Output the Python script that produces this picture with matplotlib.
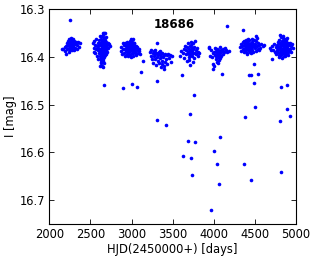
import matplotlib
matplotlib.use("Agg")
import matplotlib.pyplot as plt
import numpy as np

# Light curve of star 18686, (HJD-2450000, I mag) per observing season
season_1 = [
    (2160, 16.384), (2172, 16.383), (2185, 16.380), (2193, 16.388), (2200, 16.394),
    (2208, 16.378), (2215, 16.371), (2220, 16.384), (2227, 16.366), (2232, 16.375),
    (2237, 16.381), (2241, 16.389), (2245, 16.362), (2248, 16.370), (2251, 16.323),
    (2253, 16.377), (2256, 16.385), (2259, 16.366), (2262, 16.372), (2265, 16.360),
    (2268, 16.379), (2271, 16.369), (2274, 16.386), (2277, 16.363), (2280, 16.374),
    (2283, 16.381), (2286, 16.368), (2290, 16.362), (2293, 16.377), (2296, 16.371),
    (2300, 16.385), (2305, 16.366), (2311, 16.374), (2318, 16.381), (2324, 16.369),
    (2331, 16.383), (2342, 16.376), (2352, 16.368), (2364, 16.380), (2378, 16.370),
]

season_2 = [
    (2534, 16.372), (2541, 16.381), (2546, 16.366), (2549, 16.389), (2556, 16.375),
    (2561, 16.393), (2566, 16.383), (2571, 16.363), (2576, 16.377), (2581, 16.398),
    (2586, 16.386), (2590, 16.370), (2595, 16.381), (2598, 16.404), (2602, 16.392),
    (2605, 16.365), (2608, 16.376), (2611, 16.388), (2613, 16.399), (2615, 16.357),
    (2617, 16.371), (2619, 16.383), (2621, 16.393), (2623, 16.407), (2625, 16.362),
    (2627, 16.375), (2629, 16.386), (2631, 16.398), (2633, 16.412), (2635, 16.368),
    (2637, 16.379), (2639, 16.390), (2641, 16.401), (2643, 16.357), (2645, 16.372),
    (2647, 16.383), (2649, 16.394), (2651, 16.405), (2653, 16.366), (2655, 16.377),
    (2657, 16.388), (2659, 16.399), (2661, 16.360), (2663, 16.371), (2665, 16.382),
    (2667, 16.393), (2669, 16.458), (2671, 16.376), (2673, 16.387), (2675, 16.397),
    (2677, 16.365), (2679, 16.380), (2681, 16.391), (2683, 16.370), (2685, 16.385),
    (2688, 16.375), (2690, 16.395), (2693, 16.368), (2696, 16.382), (2700, 16.376),
    (2705, 16.389), (2711, 16.372), (2718, 16.381), (2726, 16.374), (2736, 16.378),
    (2651, 16.350), (2662, 16.350), (2676, 16.351), (2621, 16.420), (2636, 16.419),
    (2648, 16.421), (2630, 16.410), (2655, 16.409), (2640, 16.404), (2626, 16.402),
    (2612, 16.373), (2664, 16.363), (2687, 16.358), (2658, 16.355), (2645, 16.390),
    (2632, 16.384), (2668, 16.401), (2644, 16.366), (2652, 16.385), (2638, 16.395),
    (2666, 16.373), (2674, 16.368), (2628, 16.391), (2660, 16.413), (2654, 16.396),
]

season_3 = [
    (2866, 16.388), (2874, 16.379), (2882, 16.395), (2890, 16.372), (2892, 16.465),
    (2897, 16.384), (2904, 16.391), (2910, 16.376), (2915, 16.399), (2920, 16.383),
    (2926, 16.370), (2931, 16.388), (2936, 16.378), (2940, 16.394), (2945, 16.382),
    (2950, 16.373), (2954, 16.387), (2958, 16.379), (2962, 16.392), (2966, 16.384),
    (2970, 16.375), (2974, 16.389), (2978, 16.381), (2982, 16.396), (2986, 16.371),
    (2990, 16.362), (2993, 16.385), (2996, 16.378), (3000, 16.391), (3001, 16.457),
    (3004, 16.382), (3008, 16.374), (3012, 16.388), (3016, 16.362), (3019, 16.380),
    (3023, 16.393), (3027, 16.376), (3031, 16.386), (3035, 16.372), (3040, 16.390),
    (3045, 16.381), (3050, 16.397), (3056, 16.377), (3062, 16.385), (3070, 16.464),
    (3072, 16.379), (3080, 16.392), (3088, 16.383), (3096, 16.388), (3104, 16.395),
    (3111, 16.431), (3135, 16.409), (2952, 16.398), (2988, 16.401), (3018, 16.399),
    (2944, 16.369), (3006, 16.368), (3028, 16.371), (2975, 16.367), (3060, 16.395),
]

season_4 = [
    (3226, 16.389), (3234, 16.398), (3241, 16.385), (3249, 16.404), (3256, 16.393),
    (3263, 16.412), (3270, 16.399), (3277, 16.388), (3283, 16.405), (3290, 16.395),
    (3296, 16.418), (3302, 16.391), (3305, 16.451), (3306, 16.370), (3309, 16.401),
    (3313, 16.533), (3316, 16.393), (3320, 16.408), (3325, 16.396), (3330, 16.412),
    (3335, 16.390), (3341, 16.402), (3347, 16.394), (3352, 16.421), (3358, 16.398),
    (3364, 16.409), (3370, 16.393), (3376, 16.415), (3382, 16.400), (3389, 16.426),
    (3395, 16.397), (3401, 16.411), (3408, 16.394), (3415, 16.542), (3418, 16.404),
    (3425, 16.396), (3433, 16.416), (3441, 16.395), (3450, 16.403), (3462, 16.397),
    (3475, 16.410), (3486, 16.398), (3396, 16.420), (3344, 16.387), (3282, 16.386),
]

season_5 = [
    (3594, 16.399), (3603, 16.388), (3617, 16.439), (3620, 16.393), (3625, 16.608),
    (3632, 16.384), (3641, 16.402), (3650, 16.377), (3658, 16.395), (3665, 16.386),
    (3671, 16.408), (3677, 16.380), (3682, 16.392), (3686, 16.372), (3690, 16.577),
    (3690, 16.389), (3694, 16.400), (3698, 16.383), (3702, 16.394), (3706, 16.378),
    (3710, 16.388), (3713, 16.418), (3715, 16.520), (3717, 16.385), (3719, 16.611),
    (3721, 16.397), (3725, 16.376), (3728, 16.390), (3731, 16.648), (3732, 16.382),
    (3736, 16.398), (3740, 16.387), (3744, 16.371), (3748, 16.393), (3752, 16.384),
    (3757, 16.403), (3762, 16.379), (3763, 16.480), (3767, 16.392), (3772, 16.367),
    (3775, 16.579), (3778, 16.386), (3785, 16.395), (3793, 16.381), (3802, 16.398),
    (3812, 16.389), (3822, 16.393), (3700, 16.407), (3744, 16.410), (3726, 16.368),
]

season_6 = [
    (3936, 16.379), (3944, 16.381), (3952, 16.398), (3962, 16.720), (3966, 16.386),
    (3975, 16.401), (3984, 16.392), (3990, 16.415), (3994, 16.425), (3998, 16.420),
    (4002, 16.598), (4004, 16.389), (4010, 16.381), (4016, 16.396), (4022, 16.404),
    (4027, 16.387), (4032, 16.398), (4036, 16.410), (4040, 16.392), (4043, 16.625),
    (4044, 16.383), (4048, 16.401), (4052, 16.394), (4056, 16.386), (4060, 16.407),
    (4063, 16.667), (4064, 16.397), (4068, 16.389), (4072, 16.380), (4075, 16.568),
    (4076, 16.402), (4080, 16.393), (4085, 16.385), (4090, 16.399), (4096, 16.435),
    (4100, 16.388), (4108, 16.395), (4116, 16.383), (4125, 16.390), (4136, 16.381),
    (4148, 16.386), (4156, 16.335), (4165, 16.389), (4182, 16.387), (4055, 16.412),
]

season_7 = [
    (4316, 16.380), (4325, 16.373), (4334, 16.387), (4342, 16.378), (4350, 16.369),
    (4355, 16.384), (4359, 16.343), (4362, 16.375), (4363, 16.625), (4368, 16.390),
    (4372, 16.366), (4376, 16.381), (4379, 16.525), (4380, 16.372), (4384, 16.387),
    (4388, 16.378), (4392, 16.365), (4396, 16.383), (4400, 16.374), (4404, 16.391),
    (4408, 16.369), (4412, 16.380), (4416, 16.386), (4420, 16.372), (4424, 16.378),
    (4428, 16.365), (4432, 16.439), (4434, 16.384), (4438, 16.375), (4442, 16.390),
    (4446, 16.370), (4448, 16.437), (4449, 16.658), (4450, 16.381), (4455, 16.376),
    (4460, 16.386), (4465, 16.368), (4470, 16.380), (4475, 16.373), (4480, 16.389),
    (4485, 16.377), (4489, 16.414), (4489, 16.455), (4492, 16.365), (4497, 16.382),
    (4501, 16.506), (4503, 16.374), (4508, 16.388), (4514, 16.366), (4520, 16.378),
    (4526, 16.360), (4532, 16.383), (4534, 16.436), (4538, 16.371), (4545, 16.386),
    (4552, 16.376), (4562, 16.381), (4575, 16.373), (4595, 16.377), (4612, 16.375),
    (4398, 16.395), (4452, 16.393), (4418, 16.362), (4470, 16.362), (4510, 16.357),
]

season_8 = [
    (4686, 16.381), (4695, 16.385), (4704, 16.405), (4710, 16.378), (4722, 16.386),
    (4732, 16.373), (4742, 16.389), (4750, 16.380), (4757, 16.394), (4763, 16.376),
    (4769, 16.385), (4774, 16.369), (4779, 16.390), (4783, 16.380), (4787, 16.397),
    (4790, 16.372), (4794, 16.384), (4797, 16.364), (4800, 16.378), (4803, 16.391),
    (4805, 16.354), (4805, 16.535), (4807, 16.382), (4810, 16.371), (4813, 16.464),
    (4813, 16.641), (4814, 16.387), (4817, 16.376), (4820, 16.396), (4823, 16.367),
    (4826, 16.383), (4829, 16.374), (4832, 16.389), (4835, 16.361), (4838, 16.378),
    (4841, 16.393), (4844, 16.370), (4847, 16.385), (4850, 16.376), (4853, 16.398),
    (4856, 16.366), (4859, 16.381), (4862, 16.373), (4865, 16.390), (4868, 16.378),
    (4871, 16.363), (4874, 16.386), (4877, 16.375), (4880, 16.394), (4883, 16.369),
    (4886, 16.382), (4889, 16.360), (4892, 16.377), (4894, 16.458), (4894, 16.509),
    (4896, 16.389), (4899, 16.372), (4903, 16.384), (4907, 16.396), (4911, 16.376),
    (4916, 16.388), (4921, 16.370), (4927, 16.524), (4927, 16.383), (4934, 16.377),
    (4942, 16.389), (4950, 16.374), (4958, 16.381), (4818, 16.359), (4846, 16.357),
    (4868, 16.399), (4832, 16.402), (4798, 16.400), (4880, 16.365), (4858, 16.392),
]

title_text = "18686"
x_label = "HJD(2450000+) [days]"
y_label = "I [mag]"
x_ticks = [2000, 2500, 3000, 3500, 4000, 4500, 5000]
y_ticks = [16.3, 16.4, 16.5, 16.6, 16.7]

seasons = [season_1, season_2, season_3, season_4, season_5, season_6, season_7, season_8]
pts = np.array([p for s in seasons for p in s])

plt.rcParams['font.family'] = ['DejaVu Sans']
fig = plt.figure(figsize=(3.16, 2.59), dpi=100)
ax = fig.add_axes([0.156, 0.135, 0.781, 0.830])
ax.plot(pts[:, 0], pts[:, 1], 'o', color='blue', ms=2.6, mew=0)
ax.set_xlim(2000, 5000)
ax.set_ylim(16.75, 16.3)
ax.set_xticks(x_ticks)
ax.set_yticks(y_ticks)
ax.set_xticklabels([str(t) for t in x_ticks])
ax.set_yticklabels([f"{t:.1f}" for t in y_ticks])
ax.tick_params(direction='in', top=True, right=True, length=3.5, width=0.6,
               labelsize=8.3, pad=3)
for sp in ax.spines.values():
    sp.set_linewidth(0.8)
ax.set_xlabel(x_label, fontsize=8.3, labelpad=1)
ax.set_ylabel(y_label, fontsize=8.3, labelpad=2)
ax.text(3520, 16.332, title_text, fontsize=8.5, fontweight='bold',
        ha='center', va='center')
fig.savefig("out.png", dpi=100)
